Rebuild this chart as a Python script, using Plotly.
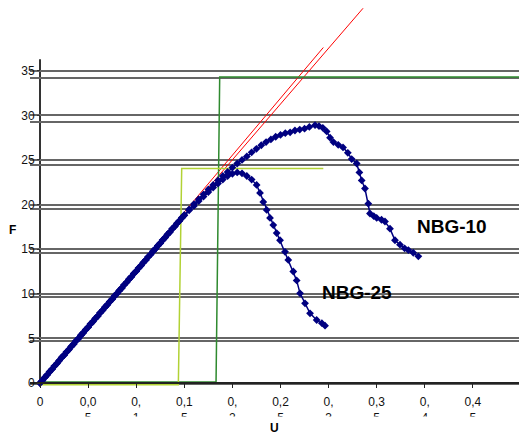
import plotly.graph_objects as go

# ---------------- data ----------------
ramp_u = [0.0, 0.0025, 0.005, 0.0075, 0.01, 0.0125, 0.015, 0.0175, 0.02, 0.0225,
          0.025, 0.0275, 0.03, 0.0325, 0.035, 0.0375, 0.04, 0.0425, 0.045, 0.0475,
          0.05, 0.0525, 0.055, 0.0575, 0.06, 0.0625, 0.065, 0.0675, 0.07, 0.0725,
          0.075, 0.0775, 0.08, 0.0825, 0.085, 0.0875, 0.09, 0.0925, 0.095, 0.0975,
          0.1, 0.1025, 0.105, 0.1075, 0.11, 0.1125, 0.115, 0.1175, 0.12, 0.1225,
          0.125, 0.1275, 0.13, 0.1325, 0.135, 0.1375, 0.14, 0.1425, 0.145, 0.1475, 0.15]
ramp_f = [0.0, 0.28, 0.63, 0.92, 1.26, 1.55, 1.9, 2.18, 2.51, 2.86,
          3.12, 3.47, 3.75, 4.1, 4.37, 4.73, 5.0, 5.35, 5.63, 5.98,
          6.26, 6.62, 6.88, 7.24, 7.5, 7.86, 8.14, 8.49, 8.77, 9.12,
          9.4, 9.75, 10.02, 10.37, 10.65, 11.0, 11.28, 11.63, 11.9, 12.26,
          12.53, 12.88, 13.16, 13.51, 13.79, 14.14, 14.41, 14.77, 15.04, 15.39,
          15.67, 16.02, 16.3, 16.65, 16.92, 17.28, 17.55, 17.9, 18.18, 18.52, 18.8]

nbg10_u = [0.155, 0.16, 0.165, 0.17, 0.175, 0.18, 0.185, 0.19, 0.195, 0.2,
           0.205, 0.21, 0.215, 0.22, 0.225, 0.23, 0.235, 0.24, 0.245, 0.25,
           0.255, 0.26, 0.265, 0.27, 0.275, 0.28, 0.2859, 0.29, 0.294, 0.298,
           0.3015, 0.305, 0.31, 0.315, 0.32, 0.324, 0.3292, 0.332, 0.3344, 0.3378,
           0.3413, 0.343, 0.347, 0.35, 0.355, 0.3586, 0.3638, 0.369, 0.3742, 0.379,
           0.3829, 0.388, 0.3933]
nbg10_f = [19.45, 20.05, 20.6, 21.15, 21.7, 22.2, 22.7, 23.2, 23.65, 24.15,
           24.6, 25.0, 25.4, 25.85, 26.25, 26.65, 27.0, 27.3, 27.6, 27.8,
           28.0, 28.1, 28.3, 28.4, 28.5, 28.7, 28.9, 28.8, 28.6, 28.2,
           27.5, 27.0, 26.7, 26.4, 25.8, 25.1, 24.6, 23.6, 22.7, 21.8,
           20.1, 19.0, 18.7, 18.5, 18.3, 18.1, 17.3, 16.0, 15.5, 15.1,
           14.9, 14.6, 14.2]

nbg25_u = [0.155, 0.16, 0.165, 0.17, 0.175, 0.18, 0.185, 0.19, 0.195, 0.2,
           0.205, 0.21, 0.215, 0.22, 0.2252, 0.2287, 0.2321, 0.2356, 0.2391, 0.2425,
           0.246, 0.2495, 0.2547, 0.2581, 0.2633, 0.2668, 0.2703, 0.2755, 0.2807, 0.2876,
           0.293, 0.2963]
nbg25_f = [19.35, 19.85, 20.4, 20.9, 21.4, 21.9, 22.35, 22.8, 23.2, 23.45,
           23.6, 23.5, 23.2, 22.8, 22.2, 21.3, 20.3, 19.4, 18.5, 17.7,
           16.8, 16.0, 14.7, 13.8, 12.5, 11.5, 10.05, 8.93, 7.81, 7.06,
           6.7, 6.42]

red1_u = [0.0, 0.3358]
red1_f = [0.0, 42.0]
red2_u = [0.0, 0.2945]
red2_f = [0.0, 37.6]

green_u = [0.0, 0.183, 0.1868, 0.52]
green_f = [0.1, 0.1, 34.3, 34.3]
yellow_u = [0.0, 0.1438, 0.1473, 0.2945]
yellow_f = [-0.2, -0.2, 24.05, 24.05]

y_ticks = [0, 5, 10, 15, 20, 25, 30, 35]
x_ticks = [0, 0.05, 0.1, 0.15, 0.2, 0.25, 0.3, 0.35, 0.4, 0.45, 0.5]
x_ticktext = ["0", "0,0<br>5", "0,<br>1", "0,1<br>5", "0,<br>2", "0,2<br>5",
              "0,<br>3", "0,3<br>5", "0,<br>4", "0,4<br>5", "0,<br>5"]

series_labels = ["NBG-10", "NBG-25"]
label_u = [0.428, 0.329]
label_f = [17.5, 10.1]

# ---------------- figure ----------------
W, H = 519, 437
ML, MR, MT, MB = 30, 0, 0, 47
NAVY = "#000080"
FONT = "Arial, Liberation Sans, sans-serif"

fig = go.Figure()

# dummy trace for overlay grid axis
fig.add_trace(go.Scatter(x=[None], y=[None], yaxis="y2", showlegend=False,
                         hoverinfo="skip"))

fig.add_trace(go.Scatter(x=red1_u, y=red1_f, mode="lines",
                         line=dict(color="#ff0000", width=1), showlegend=False))
fig.add_trace(go.Scatter(x=red2_u, y=red2_f, mode="lines",
                         line=dict(color="#ff0000", width=1), showlegend=False))
fig.add_trace(go.Scatter(x=green_u, y=green_f, mode="lines",
                         line=dict(color="#2f8a2f", width=1.5), showlegend=False))
fig.add_trace(go.Scatter(x=yellow_u, y=yellow_f, mode="lines",
                         line=dict(color="#b2d235", width=1.5), showlegend=False))

fig.add_trace(go.Scatter(x=ramp_u + nbg25_u, y=ramp_f + nbg25_f, mode="lines+markers",
                         line=dict(color=NAVY, width=1.5),
                         marker=dict(symbol="diamond", size=6, color=NAVY),
                         cliponaxis=False, name=series_labels[1], showlegend=False))
fig.add_trace(go.Scatter(x=ramp_u + nbg10_u, y=ramp_f + nbg10_f, mode="lines+markers",
                         line=dict(color=NAVY, width=1.5),
                         marker=dict(symbol="diamond", size=6, color=NAVY),
                         cliponaxis=False, name=series_labels[0], showlegend=False))

for txt, u, f in zip(series_labels, label_u, label_f):
    fig.add_annotation(x=u, y=f, text="<b>%s</b>" % txt, showarrow=False,
                       xanchor="center", yanchor="middle",
                       font=dict(family=FONT, size=19, color="black"))

plot_w = W - ML - MR
plot_h = H - MT - MB
px_per_u = 962.0
x0_px = 40  # pixel of u=0
xmin = -(x0_px - ML) / px_per_u
xmax = xmin + plot_w / px_per_u

px_per_f = 8.922
f0_px = 383
ymin = -(MT + plot_h - f0_px) / px_per_f
ymax = (f0_px - MT) / px_per_f

px_per_f2 = 8.76
f0_px2 = 384.3
ymin2 = -(MT + plot_h - f0_px2) / px_per_f2
ymax2 = (f0_px2 - MT) / px_per_f2

GRID = "#666666"


def py2paper(py):
    return (MT + plot_h - py) / plot_h


fig.update_layout(
    width=W, height=H,
    margin=dict(l=ML, r=MR, t=MT, b=MB, autoexpand=False),
    paper_bgcolor="white", plot_bgcolor="white",
    font=dict(family=FONT, size=12, color="#111"),
    xaxis=dict(range=[xmin, xmax], tickvals=x_ticks, ticktext=x_ticktext,
               showgrid=False, zeroline=False, showline=True, linecolor="#222",
               linewidth=1.5, ticks="outside", ticklen=4, tickcolor="#222",
               anchor="free", position=py2paper(f0_px),
               ticklabelstandoff=4, automargin=False,
               tickfont=dict(family=FONT, size=12, color="#111")),
    yaxis=dict(range=[ymin, ymax], tickvals=y_ticks,
               showgrid=True, gridcolor=GRID, gridwidth=1.5, zeroline=False,
               showline=False,
               ticks="outside", ticklen=3, tickcolor="#333",
               anchor="free", position=(x0_px - ML) / plot_w, automargin=False,
               tickfont=dict(family=FONT, size=12, color="#111")),
    yaxis2=dict(range=[ymin2, ymax2], tickvals=y_ticks, overlaying="y",
                anchor="x", showgrid=True, gridcolor=GRID, gridwidth=1.5,
                zeroline=False, showline=False, showticklabels=False, ticks="",
                automargin=False),
    showlegend=False,
    shapes=[
        # white band truncating the second line of the x tick labels (as in the source)
        dict(type="rect", xref="paper", yref="paper", layer="above",
             x0=-0.1, x1=1.05, y0=py2paper(425), y1=py2paper(416.5),
             fillcolor="white", line=dict(width=0)),
        # vertical axis line, running from the x axis up to the top gridline
        dict(type="line", xref="x", yref="y", layer="below",
             x0=0, x1=0, y0=-0.2, y1=y_ticks[-1] + 1.3,
             line=dict(color="#333", width=2)),
    ],
)

# axis titles
fig.add_annotation(xref="paper", yref="paper", x=(12 - ML) / plot_w,
                   y=py2paper(230), text="<b>F</b>", showarrow=False,
                   xanchor="center", yanchor="middle",
                   font=dict(family=FONT, size=12, color="black"))
fig.add_annotation(xref="paper", yref="paper", x=(274 - ML) / plot_w,
                   y=py2paper(428), text="<b>U</b>", showarrow=False,
                   xanchor="center", yanchor="middle",
                   font=dict(family=FONT, size=12, color="black"))

fig.write_html("out.html", config={"displayModeBar": False},
               post_script="document.body.style.margin='0';document.body.style.overflow='hidden';")
